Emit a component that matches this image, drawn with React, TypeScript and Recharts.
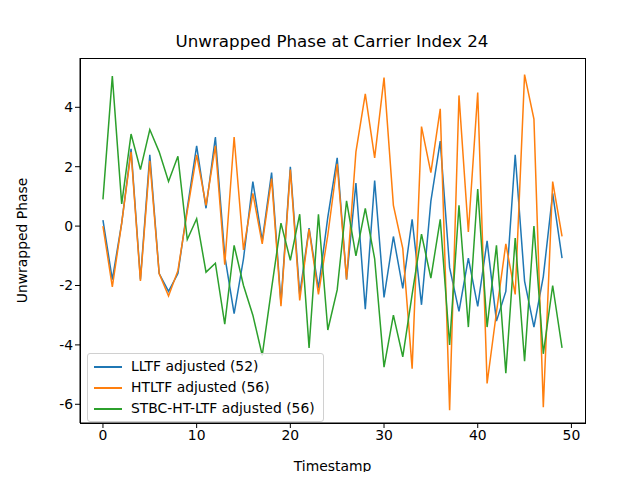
import { LineChart, Line, XAxis, YAxis } from "recharts";

const steps = Array.from({ length: 50 }, (_, i) => i);

const lltf = [
  0.2, -1.8, 0.1, 2.6, -1.8, 2.4, -1.6, -2.2, -1.6, 0.6,
  2.7, 0.6, 3.0, -1.0, -2.95, -1.1, 1.5, -0.5, 1.8, -2.6,
  2.0, -2.3, -0.07, -2.1, 0.3, 2.3, -1.8, 1.45, -2.8, 1.53,
  -2.4, -0.35, -2.1, 0.23, -2.65, 0.84, 2.86, -1.4, -2.87, -1.08,
  -2.7, -0.5, -3.2, -2.2, 2.4, -1.85, -3.4, -1.7, 1.1, -1.08,
];

const htltf = [
  0.0, -2.05, 0.1, 2.5, -1.85, 2.2, -1.6, -2.35, -1.5, 0.5,
  2.4, 0.7, 2.7, -1.3, 3.0, -0.8, 1.1, -0.6, 1.6, -2.7,
  1.9, -2.5, -0.1, -2.3, -0.3, 2.1, -1.8, 2.5, 4.45, 2.3,
  5.0, 0.7, -0.75, -4.8, 3.35, 1.8, 3.95, -6.2, 4.4, -0.2,
  4.5, -5.3, -2.9, -0.6, -2.3, 5.1, 3.6, -6.1, 1.5, -0.35,
];

const stbc = [
  0.9, 5.05, 0.75, 3.1, 1.9, 3.25, 2.5, 1.5, 2.35, -0.45,
  0.25, -1.55, -1.25, -3.3, -0.65, -2.0, -3.0, -4.35, -2.1, 0.1,
  -1.15, 0.4, -4.1, 0.4, -3.5, -2.15, 0.85, -1.0, 0.6, -1.1,
  -4.75, -3.0, -4.4, -2.3, -0.27, -1.75, 0.23, -4.0, 0.7, -3.4,
  1.25, -3.4, -0.65, -4.95, -0.4, -4.55, 0.0, -4.3, -2.0, -4.1,
];

const xTicks = [0, 10, 20, 30, 40, 50];
const yTicks = [-6, -4, -2, 0, 2, 4];

const seriesNames = ["LLTF adjusted (52)", "HTLTF adjusted (56)", "STBC-HT-LTF adjusted (56)"];
const colors = ["#1f77b4", "#ff7f0e", "#2ca02c"];

const data = steps.map((t, i) => ({ t, a: lltf[i], b: htltf[i], c: stbc[i] }));

const font = "DejaVu Sans, sans-serif";

export default function App() {
  return (
    <div style={{ position: "relative", width: 640, height: 480, margin: -8, background: "#fff", fontFamily: font }}>
      <div style={{ position: "absolute", top: 31, left: 12, width: 640, textAlign: "center", fontSize: 16.7, color: "#000" }}>
        Unwrapped Phase at Carrier Index 24
      </div>
      <LineChart width={640} height={480} data={data} margin={{ top: 58, right: 55, left: 0, bottom: 0 }}>
        <XAxis
          dataKey="t"
          type="number"
          domain={[-2.45, 51.45]}
          ticks={xTicks}
          height={57}
          tickSize={5}
          stroke="#000"
          tick={{ fill: "#000", fontSize: 13.9, fontFamily: font }}
          label={{ value: "Timestamp", position: "insideBottom", offset: 9, fill: "#000", fontSize: 13.9, fontFamily: font }}
        />
        <YAxis
          type="number"
          domain={[-6.63, 5.66]}
          ticks={yTicks}
          width={80}
          tickSize={5}
          stroke="#000"
          tick={{ fill: "#000", fontSize: 13.9, fontFamily: font }}
          label={{ value: "Unwrapped Phase", angle: -90, position: "insideLeft", offset: 22, fill: "#000", fontSize: 13.9, fontFamily: font, style: { textAnchor: "middle" } }}
        />
        <Line dataKey="a" stroke={colors[0]} strokeWidth={1.5} dot={false} isAnimationActive={false} />
        <Line dataKey="b" stroke={colors[1]} strokeWidth={1.5} dot={false} isAnimationActive={false} />
        <Line dataKey="c" stroke={colors[2]} strokeWidth={1.5} dot={false} isAnimationActive={false} />
      </LineChart>
      <div style={{ position: "absolute", left: 80, top: 58, width: 504, height: 364, border: "1px solid #000", pointerEvents: "none" }} />
      <div
        style={{
          position: "absolute",
          left: 87,
          top: 353,
          border: "1px solid #d0d0d0",
          borderRadius: 3,
          background: "rgba(255,255,255,0.8)",
          padding: "2px 8px 2px 6px",
          fontSize: 13.9,
          lineHeight: "21px",
        }}
      >
        {seriesNames.map((n, i) => (
          <div key={n} style={{ display: "flex", alignItems: "center" }}>
            <span style={{ display: "inline-block", width: 28, height: 2, background: colors[i], marginRight: 9 }} />
            {n}
          </div>
        ))}
      </div>
    </div>
  );
}
